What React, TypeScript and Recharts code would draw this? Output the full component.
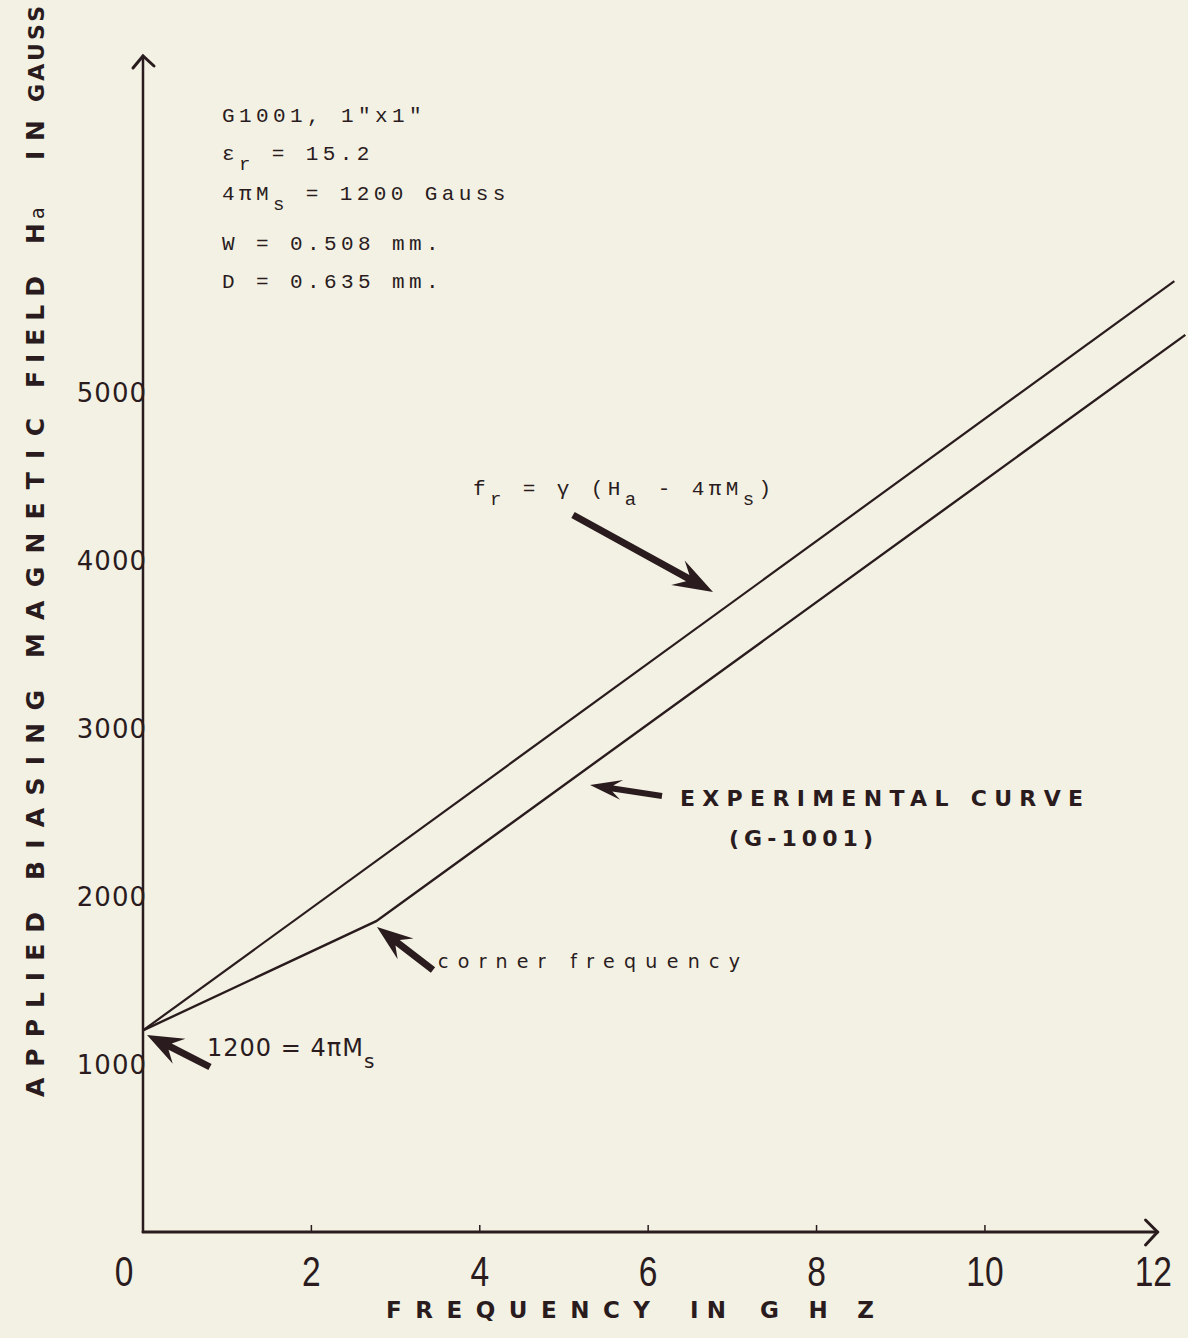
import React from 'react';
import { LineChart, Line, XAxis, YAxis, ReferenceLine } from 'recharts';

// values
const theoryFreq = [0, 12.25];
const theoryField = [1200, 5660];
const expFreq = [0, 2.77, 12.38];
const expField = [1200, 1850, 5340];

const xTicks = [0, 2, 4, 6, 8, 10, 12];
const yTicks = [1000, 2000, 3000, 4000, 5000];

const theoryData = theoryFreq.map((f, i) => ({ f, h: theoryField[i] }));
const expData = expFreq.map((f, i) => ({ f, h: expField[i] }));

const INK = '#2a1c1e';
const PAPER = '#f3f1e3';
const MONO = '"Liberation Mono", "DejaVu Sans Mono", monospace';
const SANS = '"DejaVu Sans", "Liberation Sans", sans-serif';

const XTick = (props: any) => {
  const { x, y, payload } = props;
  const v = payload.value;
  const dx = v === 0 ? -19 : 0;
  return (
    <g>
      {v !== 0 && v !== 12 && <line x1={x} y1={y - 9} x2={x} y2={y - 15} stroke={INK} strokeWidth={1.5} />}
      <text transform={`translate(${x + dx},${y + 46}) scale(0.78,1)`} textAnchor="middle" fill={INK}
        style={{ fontFamily: '"Liberation Sans", sans-serif', fontSize: 43 }}>
        {v}
      </text>
    </g>
  );
};

const YTick = (props: any) => {
  const { y, payload } = props;
  return (
    <text x={147} y={y + 10} textAnchor="end" fill={INK}
      style={{ fontFamily: SANS, fontSize: 26, letterSpacing: 1 }}>
      {payload.value}
    </text>
  );
};

const XAxisLine = (props: any) => {
  const { x1, y1, x2 } = props;
  return (
    <g stroke={INK} fill="none" strokeLinecap="round">
      <line x1={x1} y1={y1} x2={x2} y2={y1} strokeWidth={3} />
      <polyline points={`${x2 - 12},${y1 - 12} ${x2},${y1} ${x2 - 12},${y1 + 13}`} strokeWidth={3} />
    </g>
  );
};

const YAxisLine = (props: any) => {
  const { x1, y1, y2 } = props;
  const top = Math.min(y1, y2);
  const bottom = Math.max(y1, y2);
  return (
    <g stroke={INK} fill="none" strokeLinecap="round">
      <line x1={x1} y1={bottom} x2={x1} y2={top} strokeWidth={2.5} />
      <polyline points={`${x1 - 10},${top + 12} ${x1},${top} ${x1 + 11},${top + 10}`} strokeWidth={3} />
    </g>
  );
};

function Arrow({ from, to, head = 34, half = 13, w = 6 }: { from: number[]; to: number[]; head?: number; half?: number; w?: number }) {
  const [x1, y1] = from;
  const [x2, y2] = to;
  const len = Math.hypot(x2 - x1, y2 - y1);
  const ux = (x2 - x1) / len;
  const uy = (y2 - y1) / len;
  const nx = -uy;
  const ny = ux;
  const bx = x2 - ux * head;
  const by = y2 - uy * head;
  const kx = x2 - ux * head * 0.72;
  const ky = y2 - uy * head * 0.72;
  const pts = [
    [x2, y2],
    [bx + nx * half, by + ny * half],
    [kx + nx * w / 2, ky + ny * w / 2],
    [x1 + nx * w / 2, y1 + ny * w / 2],
    [x1 - nx * w / 2, y1 - ny * w / 2],
    [kx - nx * w / 2, ky - ny * w / 2],
    [bx - nx * half, by - ny * half],
  ];
  return <polygon points={pts.map((p) => p.join(',')).join(' ')} fill={INK} />;
}

const sub = (s: string) => (
  <tspan dy={10} fontSize={19}>{s}</tspan>
);

// vertical title words: [text, bottom y, length, font size]
const yTitleWords: [string, number, number, number][] = [
  ['APPLIED', 1097, 185, 25],
  ['BIASING', 880, 190, 25],
  ['MAGNETIC', 658, 240, 25],
  ['FIELD', 388, 112, 25],
  ['IN', 160, 40, 25],
  ['GAUSS', 102, 96, 22],
];

export default function App() {
  const mono = { fontFamily: MONO, fontSize: 21, letterSpacing: 4.4, fill: INK } as React.CSSProperties;
  const titleStyle = { fontFamily: SANS, fontWeight: 600, fill: INK } as React.CSSProperties;
  const xTitleStyle = { fontFamily: SANS, fontSize: 23, fontWeight: 600, fill: INK } as React.CSSProperties;
  return (
    <div style={{ position: 'absolute', left: 0, top: 0, width: 1188, height: 1338, background: PAPER, overflow: 'hidden' }}>
      <LineChart width={1188} height={1338} margin={{ top: 56, right: 1, bottom: 56, left: 83 }}>
        <XAxis type="number" dataKey="f" domain={[0, 12.4]} ticks={xTicks} axisLine={false} tickLine={false}
          height={50} tick={<XTick />} interval={0} allowDataOverflow />
        <YAxis type="number" dataKey="h" domain={[0, 7000]} ticks={yTicks} axisLine={false} tickLine={false}
          width={60} tick={<YTick />} interval={0} allowDataOverflow />
        <ReferenceLine segment={[{ x: 0, y: 0 }, { x: 12.05, y: 0 }]} shape={XAxisLine} ifOverflow="visible" />
        <ReferenceLine segment={[{ x: 0, y: 0 }, { x: 0, y: 7000 }]} shape={YAxisLine} ifOverflow="visible" />
        <Line data={theoryData} dataKey="h" type="linear" stroke={INK} strokeWidth={2.2} dot={false} isAnimationActive={false} />
        <Line data={expData} dataKey="h" type="linear" stroke={INK} strokeWidth={2.4} dot={false} isAnimationActive={false} />
      </LineChart>

      <svg width={1188} height={1338} style={{ position: 'absolute', left: 0, top: 0, pointerEvents: 'none' }}>
        {/* axis titles */}
        {yTitleWords.map(([w, y, len, fs]) => (
          <text key={w} transform={`translate(44,${y}) rotate(-90)`} textLength={len} lengthAdjust="spacing"
            style={{ ...titleStyle, fontSize: fs }}>
            {w}
          </text>
        ))}
        <text transform="translate(44,244) rotate(-90)" style={{ ...titleStyle, fontSize: 25 }}>
          H<tspan dx={4} fontSize={19} fontWeight={400}>a</tspan>
        </text>
        <text x={386} y={1318} textLength={264} lengthAdjust="spacing" style={xTitleStyle}>FREQUENCY</text>
        <text x={690} y={1318} textLength={36} lengthAdjust="spacing" style={xTitleStyle}>IN</text>
        <text x={760} y={1318} textLength={114} lengthAdjust="spacing" style={xTitleStyle}>GHZ</text>

        {/* sample parameters */}
        <text x={222} y={122} style={mono}>G1001, 1"x1"</text>
        <text x={222} y={160} style={mono}>ε{sub('r')}<tspan dy={-10}> = 15.2</tspan></text>
        <text x={222} y={200} style={mono}>4πM{sub('s')}<tspan dy={-10}> = 1200 Gauss</tspan></text>
        <text x={222} y={250} style={mono}>W = 0.508 mm.</text>
        <text x={222} y={288} style={mono}>D = 0.635 mm.</text>

        {/* annotations */}
        <text x={473} y={495} style={mono}>
          f{sub('r')}<tspan dy={-10}> = γ (H</tspan>{sub('a')}<tspan dy={-10}> - 4πM</tspan>{sub('s')}<tspan dy={-10}>)</tspan>
        </text>
        <Arrow from={[573, 515]} to={[713, 592]} head={40} half={14} w={7} />

        <text x={680} y={806} textLength={403} lengthAdjust="spacing"
          style={{ fontFamily: SANS, fontSize: 22, fontWeight: 600, fill: INK }}>EXPERIMENTAL  CURVE</text>
        <text x={729} y={846} textLength={144} lengthAdjust="spacing"
          style={{ fontFamily: SANS, fontSize: 22, fontWeight: 600, fill: INK }}>(G-1001)</text>
        <Arrow from={[662, 796]} to={[590, 785]} head={32} half={10} w={6} />

        <text x={438} y={968} textLength={302} lengthAdjust="spacing"
          style={{ fontFamily: SANS, fontSize: 19, fill: INK }}>corner frequency</text>
        <Arrow from={[433, 970]} to={[377, 927]} head={36} half={13} w={7} />

        <text x={207} y={1056} style={{ fontFamily: SANS, fontSize: 24, fill: INK, letterSpacing: 1 }}>
          1200 = 4πM<tspan dy={12} fontSize={20}>s</tspan>
        </text>
        <Arrow from={[210, 1067]} to={[147, 1035]} head={36} half={14} w={7} />
      </svg>
    </div>
  );
}
